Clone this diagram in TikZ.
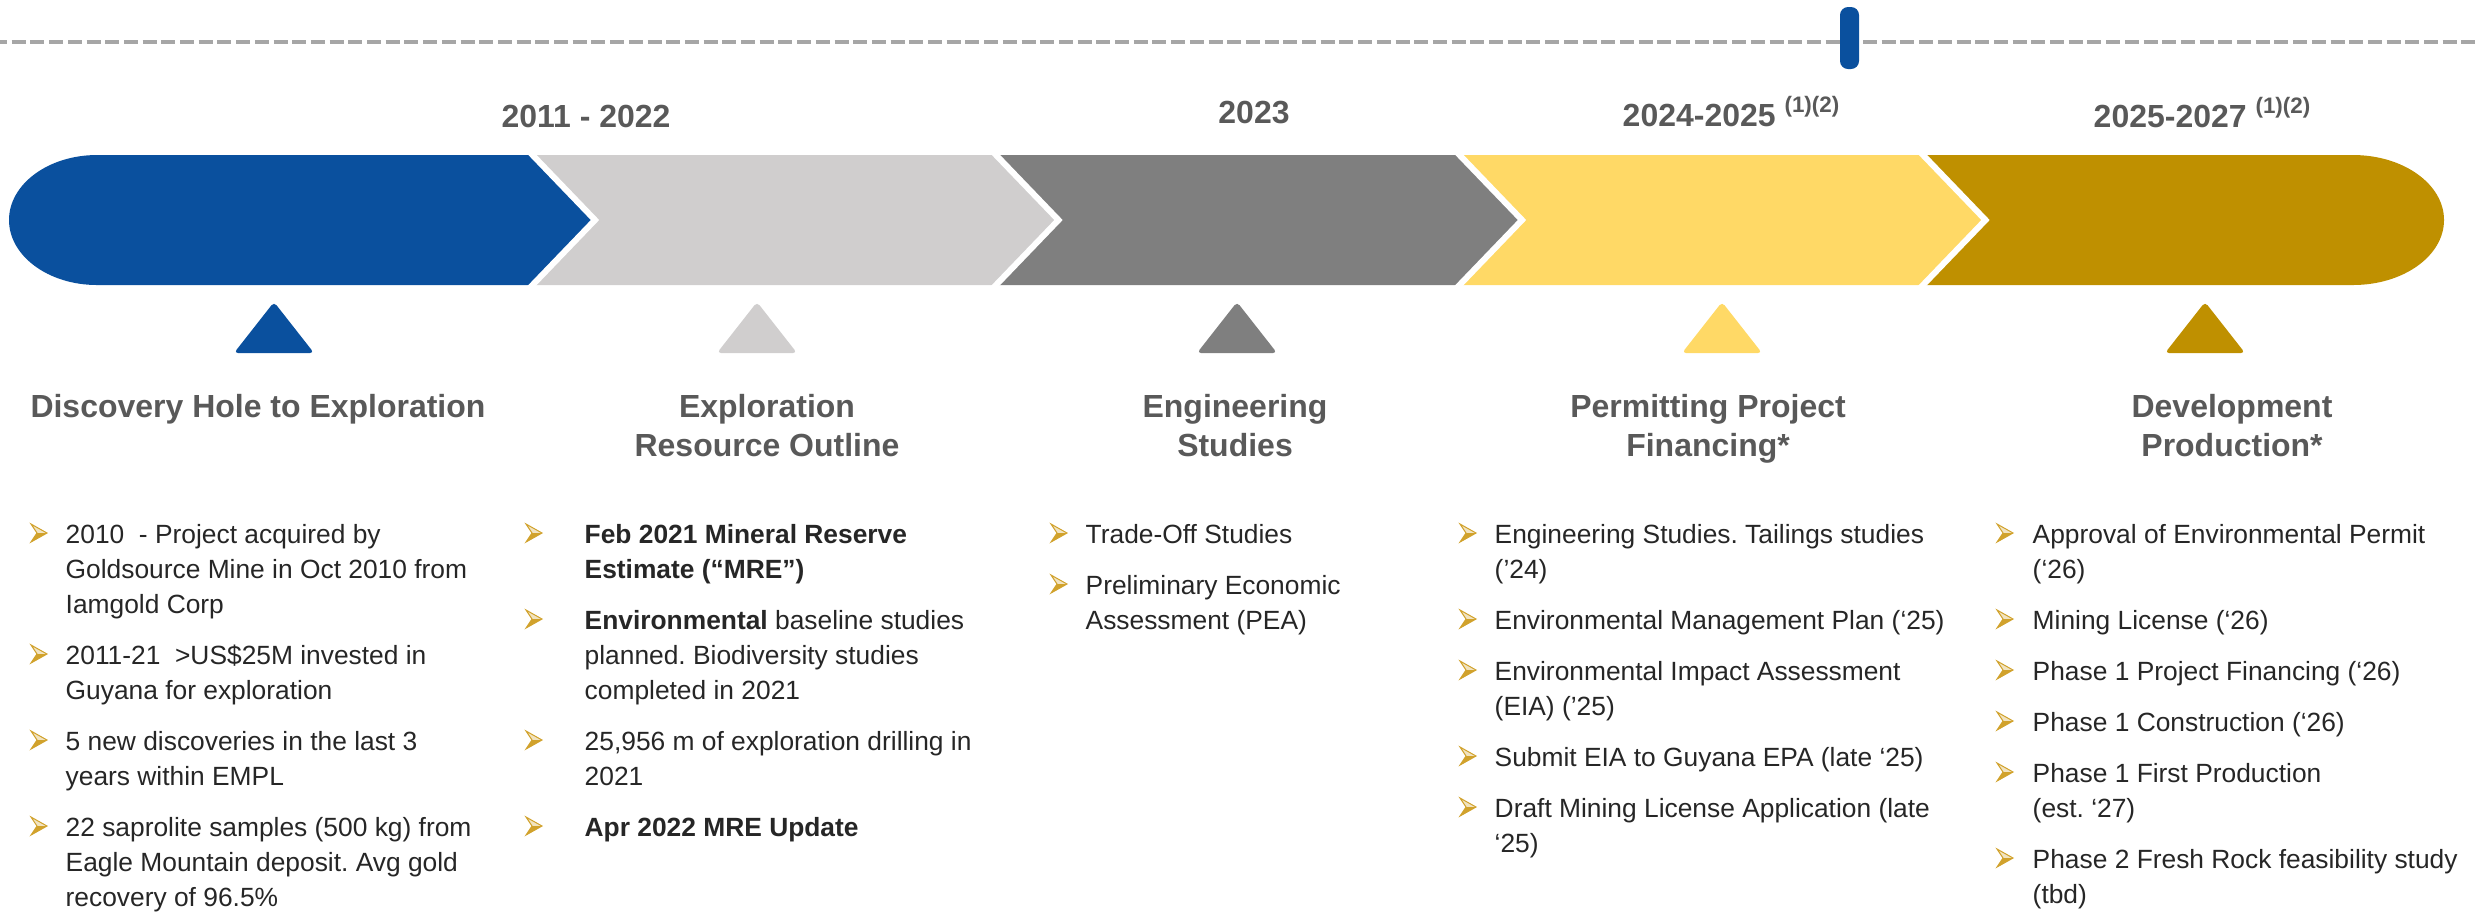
\documentclass[tikz,border=0pt]{standalone}
\usepackage{fontspec}
\setmainfont{Liberation Sans}
\usetikzlibrary{positioning}
\frenchspacing

\definecolor{phblue}{HTML}{0A509E}
\definecolor{phlgray}{HTML}{D0CECE}
\definecolor{phdgray}{HTML}{7F7F7F}
\definecolor{phyellow}{HTML}{FFD966}
\definecolor{phgold}{HTML}{BF9000}
\definecolor{dashgray}{HTML}{A6A6A6}
\definecolor{headgray}{HTML}{595959}
\definecolor{bodytxt}{HTML}{262626}
\definecolor{bulgold}{HTML}{D1A22C}

% stacked lines, baseline on the first one
\newcommand{\stk}[1]{\begin{tabular}[t]{@{}l@{}}#1\end{tabular}}
\newcommand{\cstk}[1]{\begin{tabular}[t]{@{}c@{}}#1\end{tabular}}

\tikzset{
  pics/arrbul/.style={code={
    \fill[bulgold!30] (-8,-9) -- (8,0) -- (-2,0) -- cycle;
    \fill[bulgold] (-8,9) -- (8,0) -- (-2,0) -- cycle;
    \draw[bulgold,line width=0.1mm,line join=miter] (-8,-9) -- (8,0) -- (-8,9) -- (-2,0) -- cycle;
  }},
}

\begin{document}
\begin{tikzpicture}[x=0.1mm,y=-0.1mm,
  yearlbl/.style={font=\fontsize{9.1}{11.1}\selectfont\bfseries,text=headgray,inner sep=0,anchor=base},
  headlbl/.style={font=\fontsize{9.1}{11.1}\selectfont\bfseries,text=headgray,inner sep=0,anchor=base},
  itemtxt/.style={font=\fontsize{7.5}{9.96}\selectfont,text=bodytxt,inner sep=0,anchor=base west}]
\useasboundingbox (0,0) rectangle (2478,913);

% today line
\draw[dashgray,line width=0.45mm,dash pattern=on 1.4mm off 0.47mm,dash phase=0.7mm] (0,42) -- (2478,42);
\fill[phblue,rounded corners=0.8mm] (1840,7) rectangle (1859,69);

% years
\node[yearlbl] (y1) at (586,127) {2011 - 2022};
\node[yearlbl] (y2) at (1254,123) {2023};
\node[yearlbl,anchor=base west] (y3) at (1622,126) {2024-2025 \textsuperscript{(1)(2)}};
\node[yearlbl,anchor=base west] (y4) at (2093,127) {2025-2027 \textsuperscript{(1)(2)}};

% chevron band
\fill[phblue] (97,155) -- (532.5,155) -- (595,220) -- (532.5,285) -- (97,285)
  .. controls (48.4,285) and (9,255.9) .. (9,220)
  .. controls (9,184.1) and (48.4,155) .. (97,155) -- cycle;
\foreach \c [count=\k] in {phlgray,phdgray,phyellow} {
  \pgfmathsetmacro\xa{532.5+463.5*(\k-1)}
  \pgfmathsetmacro\xb{\xa+463.5}
  \fill[\c] (\xa,155) -- (\xb,155) -- (\xb+62.5,220) -- (\xb,285) -- (\xa,285) -- (\xa+62.5,220) -- cycle;
}
\fill[phgold] (1923,155) -- (2353,155)
  .. controls (2403.3,155) and (2444,184.1) .. (2444,220)
  .. controls (2444,255.9) and (2403.3,285) .. (2353,285) -- (1923,285) -- (1985.5,220) -- cycle;
\foreach \xa in {532.5,996,1459.5,1923}
  \draw[white,line width=0.6mm,line join=miter] (\xa-4.8,150) -- (\xa+62.5,220) -- (\xa-4.8,290);

% markers
\foreach \c/\tx in {phblue/274,phlgray/757,phdgray/1237,phyellow/1722,phgold/2205}
  \fill[\c,rounded corners=0.4mm] (\tx,302) -- (\tx+40,353) -- (\tx-40,353) -- cycle;

% stage titles
\node[headlbl] (h1) at (258,417) {\cstk{Discovery Hole to Exploration}};
\node[headlbl] (h2) at (767,417) {\cstk{Exploration\\Resource Outline}};
\node[headlbl] (h3) at (1235,417) {\cstk{Engineering\\Studies}};
\node[headlbl] (h4) at (1708,417) {\cstk{Permitting Project\\Financing*}};
\node[headlbl] (h5) at (2232,417) {\cstk{Development\\Production*}};

% column 1
\foreach \yy/\txt [count=\n] in {
  543/{\stk{2010~~- Project acquired by\\Goldsource Mine in Oct 2010 from\\Iamgold Corp}},
  664/{\stk{2011-21~~>US\$25M invested in\\Guyana for exploration}},
  750/{\stk{5 new discoveries in the last 3\\years within EMPL}},
  836/{\stk{22 saprolite samples (500 kg) from\\Eagle Mountain deposit. Avg gold\\recovery of 96.5\%}}} {
  \pic (ba\n) at (39,\yy-10) {arrbul};
  \node[itemtxt] (ca\n) at (65,\yy) {\txt};
}

% column 2
\foreach \yy/\txt [count=\n] in {
  543/{\stk{\textbf{Feb 2021 Mineral Reserve}\\\textbf{Estimate (“MRE”)}}},
  629/{\stk{\textbf{Environmental} baseline studies\\planned. Biodiversity studies\\completed in 2021}},
  750/{\stk{25,956 m of exploration drilling in\\2021}},
  836/{\stk{\textbf{Apr 2022 MRE Update}}}} {
  \pic (bb\n) at (534,\yy-10) {arrbul};
  \node[itemtxt] (cb\n) at (584,\yy) {\txt};
}

% column 3
\foreach \yy/\txt [count=\n] in {
  543/{\stk{Trade-Off Studies}},
  594/{\stk{Preliminary Economic\\Assessment (PEA)}}} {
  \pic (bc\n) at (1059,\yy-10) {arrbul};
  \node[itemtxt] (cc\n) at (1085,\yy) {\txt};
}

% column 4
\foreach \yy/\txt [count=\n] in {
  543/{\stk{Engineering Studies. Tailings studies\\(’24)}},
  629/{\stk{Environmental Management Plan (‘25)}},
  680/{\stk{Environmental Impact Assessment\\(EIA) (’25)}},
  766/{\stk{Submit EIA to Guyana EPA (late ‘25)}},
  817/{\stk{Draft Mining License Application (late\\‘25)}}} {
  \pic (bd\n) at (1468,\yy-10) {arrbul};
  \node[itemtxt] (cd\n) at (1494,\yy) {\txt};
}

% column 5
\foreach \yy/\txt [count=\n] in {
  543/{\stk{Approval of Environmental Permit\\(‘26)}},
  629/{\stk{Mining License (‘26)}},
  680/{\stk{Phase 1 Project Financing (‘26)}},
  731/{\stk{Phase 1 Construction (‘26)}},
  782/{\stk{Phase 1 First Production\\(est. ‘27)}},
  868/{\stk{Phase 2 Fresh Rock feasibility study\\(tbd)}}} {
  \pic (be\n) at (2005,\yy-10) {arrbul};
  \node[itemtxt] (ce\n) at (2032,\yy) {\txt};
}

\end{tikzpicture}
\end{document}
